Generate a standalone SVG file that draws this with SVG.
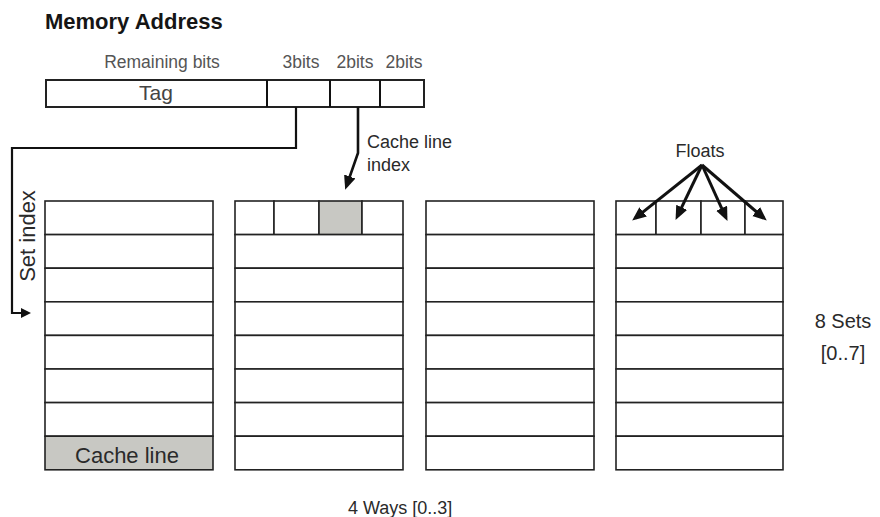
<svg xmlns="http://www.w3.org/2000/svg" width="880" height="517" viewBox="0 0 880 517">
<defs>
<marker id="ah" markerWidth="15" markerHeight="13" refX="10" refY="6" orient="auto" markerUnits="userSpaceOnUse">
<path d="M0,0 L14,6 L0,12 Z" fill="#111"/>
</marker>
<marker id="ahs" markerWidth="11" markerHeight="11" refX="6" refY="5" orient="auto" markerUnits="userSpaceOnUse">
<path d="M0,0 L10,5 L0,10 Z" fill="#111"/>
</marker>
<style>
text{font-family:"Liberation Sans",Arial,sans-serif;fill:#2a2a2a}
.cell{fill:#fff;stroke:#222;stroke-width:1.6}
.gray{fill:#c8c8c3;stroke:#222;stroke-width:1.6}
.ln{stroke:#111;stroke-width:2;fill:none}
.conn{stroke:#111;stroke-width:2.2;fill:none}
.arr{stroke:#111;stroke-width:3;fill:none}
.sm{font-size:17.5px;fill:#555}
</style>
</defs>
<rect width="880" height="517" fill="#fff"/>
<text x="45" y="29" style="font-size:22px;font-weight:bold;fill:#151515">Memory Address</text>

<g id="address">
<text class="sm" x="162" y="68" text-anchor="middle">Remaining bits</text>
<text class="sm" x="301" y="68" text-anchor="middle">3bits</text>
<text class="sm" x="355" y="68" text-anchor="middle">2bits</text>
<text class="sm" x="404" y="68" text-anchor="middle">2bits</text>
<rect x="46" y="80" width="378" height="27" class="cell" style="stroke-width:2"/>
<line class="ln" x1="267" y1="80" x2="267" y2="107"/>
<line class="ln" x1="330" y1="80" x2="330" y2="107"/>
<line class="ln" x1="380" y1="80" x2="380" y2="107"/>
<text x="156" y="100" text-anchor="middle" style="font-size:21px;fill:#444">Tag</text>
</g>

<text x="367" y="148" style="font-size:18px">Cache line</text>
<text x="367" y="171" style="font-size:18px">index</text>
<text x="700" y="157" text-anchor="middle" style="font-size:18px">Floats</text>
<text transform="translate(35,236) rotate(-90)" text-anchor="middle" style="font-size:22px">Set index</text>

<g id="way0">
<rect class="cell" x="45" y="201" width="168" height="33.6"/>
<rect class="cell" x="45" y="234.6" width="168" height="33.6"/>
<rect class="cell" x="45" y="268.2" width="168" height="33.6"/>
<rect class="cell" x="45" y="301.8" width="168" height="33.6"/>
<rect class="cell" x="45" y="335.4" width="168" height="33.6"/>
<rect class="cell" x="45" y="369" width="168" height="33.6"/>
<rect class="cell" x="45" y="402.6" width="168" height="33.6"/>
<rect class="gray" x="45" y="436.2" width="168" height="33.6"/>
<text x="127" y="463" text-anchor="middle" style="font-size:22px">Cache line</text>
</g>

<g id="way1">
<rect class="cell" x="235" y="201" width="39" height="33.6"/>
<rect class="cell" x="274" y="201" width="45" height="33.6"/>
<rect class="gray" x="319" y="201" width="43" height="33.6"/>
<rect class="cell" x="362" y="201" width="41" height="33.6"/>
<rect class="cell" x="235" y="234.6" width="168" height="33.6"/>
<rect class="cell" x="235" y="268.2" width="168" height="33.6"/>
<rect class="cell" x="235" y="301.8" width="168" height="33.6"/>
<rect class="cell" x="235" y="335.4" width="168" height="33.6"/>
<rect class="cell" x="235" y="369" width="168" height="33.6"/>
<rect class="cell" x="235" y="402.6" width="168" height="33.6"/>
<rect class="cell" x="235" y="436.2" width="168" height="33.6"/>
</g>

<g id="way2">
<rect class="cell" x="426" y="201" width="168" height="33.6"/>
<rect class="cell" x="426" y="234.6" width="168" height="33.6"/>
<rect class="cell" x="426" y="268.2" width="168" height="33.6"/>
<rect class="cell" x="426" y="301.8" width="168" height="33.6"/>
<rect class="cell" x="426" y="335.4" width="168" height="33.6"/>
<rect class="cell" x="426" y="369" width="168" height="33.6"/>
<rect class="cell" x="426" y="402.6" width="168" height="33.6"/>
<rect class="cell" x="426" y="436.2" width="168" height="33.6"/>
</g>

<g id="way3">
<rect class="cell" x="616" y="201" width="40" height="33.6"/>
<rect class="cell" x="656" y="201" width="45" height="33.6"/>
<rect class="cell" x="701" y="201" width="44" height="33.6"/>
<rect class="cell" x="745" y="201" width="38" height="33.6"/>
<rect class="cell" x="616" y="234.6" width="167" height="33.6"/>
<rect class="cell" x="616" y="268.2" width="167" height="33.6"/>
<rect class="cell" x="616" y="301.8" width="167" height="33.6"/>
<rect class="cell" x="616" y="335.4" width="167" height="33.6"/>
<rect class="cell" x="616" y="369" width="167" height="33.6"/>
<rect class="cell" x="616" y="402.6" width="167" height="33.6"/>
<rect class="cell" x="616" y="436.2" width="167" height="33.6"/>
</g>

<g id="connectors">
<polyline class="conn" points="296,107 296,148 12,148 12,313 27,313" marker-end="url(#ahs)"/>
<polyline class="conn" points="358,107 358,153 346.5,186" style="stroke-width:2.6" marker-end="url(#ah)"/>
<g class="arr">
<line x1="702" y1="165" x2="635.3" y2="218.1" marker-end="url(#ah)"/>
<line x1="702" y1="165" x2="677.3" y2="216.3" marker-end="url(#ah)"/>
<line x1="702" y1="165" x2="725.8" y2="217.3" marker-end="url(#ah)"/>
<line x1="702" y1="165" x2="763.7" y2="218" marker-end="url(#ah)"/>
</g>
</g>

<text x="843" y="328" text-anchor="middle" style="font-size:20px">8 Sets</text>
<text x="843" y="360" text-anchor="middle" style="font-size:20px">[0..7]</text>
<text x="348" y="514" style="font-size:18px">4 Ways [0..3]</text>
</svg>
